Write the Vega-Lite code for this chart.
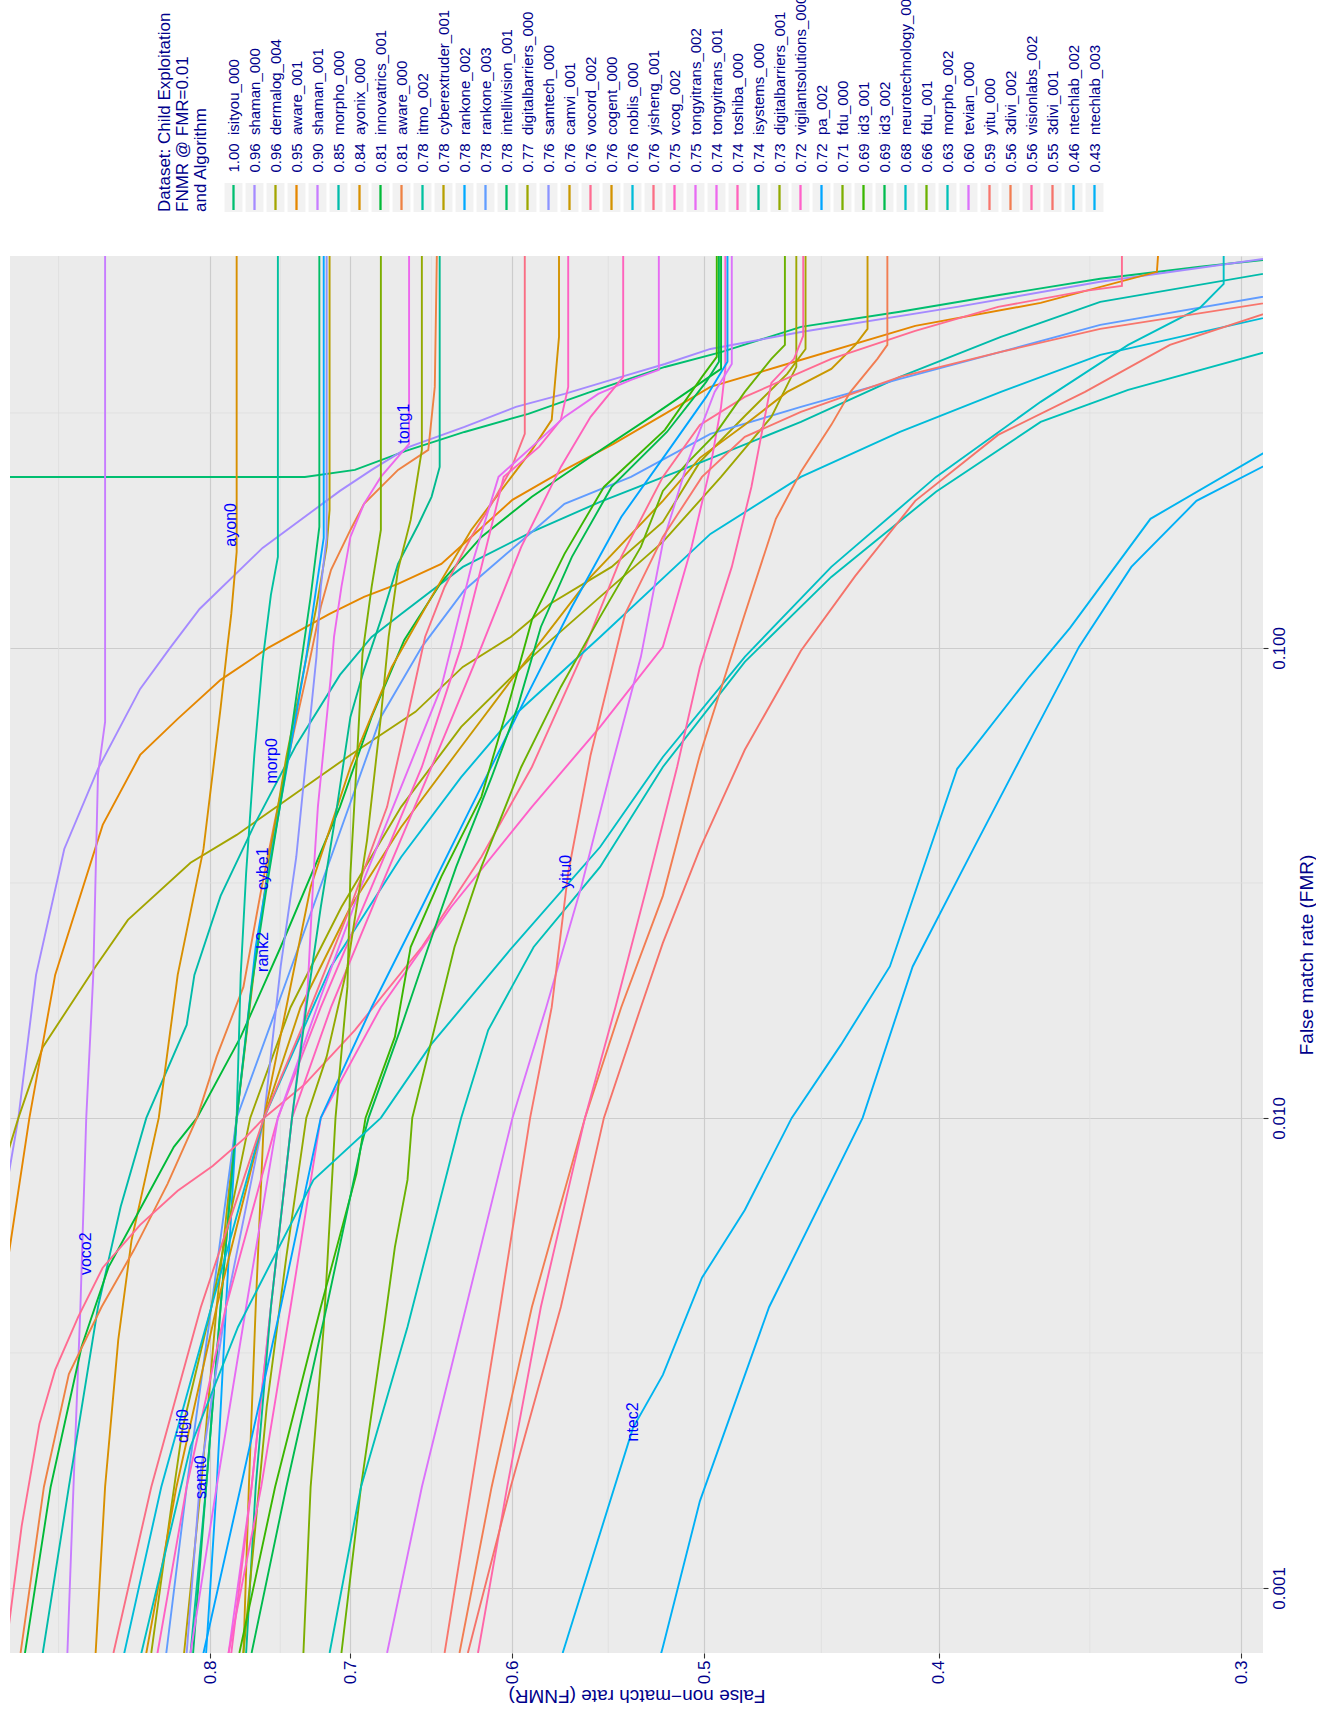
{
"$schema": "https://vega.github.io/schema/vega-lite/v6.json",
"padding": {"left": 9, "top": -10, "right": 0, "bottom": 12},
"background": "white",
"spacing": 42,
"config": {"font": "Liberation Sans", "view": {"stroke": null}},
"datasets": {
"leg": [
{"a":"isityou_000","lab":"1.00\u00a0\u00a0isityou_000"},
{"a":"shaman_000","lab":"0.96\u00a0\u00a0shaman_000"},
{"a":"dermalog_004","lab":"0.96\u00a0\u00a0dermalog_004"},
{"a":"aware_001","lab":"0.95\u00a0\u00a0aware_001"},
{"a":"shaman_001","lab":"0.90\u00a0\u00a0shaman_001"},
{"a":"morpho_000","lab":"0.85\u00a0\u00a0morpho_000"},
{"a":"ayonix_000","lab":"0.84\u00a0\u00a0ayonix_000"},
{"a":"innovatrics_001","lab":"0.81\u00a0\u00a0innovatrics_001"},
{"a":"aware_000","lab":"0.81\u00a0\u00a0aware_000"},
{"a":"itmo_002","lab":"0.78\u00a0\u00a0itmo_002"},
{"a":"cyberextruder_001","lab":"0.78\u00a0\u00a0cyberextruder_001"},
{"a":"rankone_002","lab":"0.78\u00a0\u00a0rankone_002"},
{"a":"rankone_003","lab":"0.78\u00a0\u00a0rankone_003"},
{"a":"intellivision_001","lab":"0.78\u00a0\u00a0intellivision_001"},
{"a":"digitalbarriers_000","lab":"0.77\u00a0\u00a0digitalbarriers_000"},
{"a":"samtech_000","lab":"0.76\u00a0\u00a0samtech_000"},
{"a":"camvi_001","lab":"0.76\u00a0\u00a0camvi_001"},
{"a":"vocord_002","lab":"0.76\u00a0\u00a0vocord_002"},
{"a":"cogent_000","lab":"0.76\u00a0\u00a0cogent_000"},
{"a":"noblis_000","lab":"0.76\u00a0\u00a0noblis_000"},
{"a":"yisheng_001","lab":"0.76\u00a0\u00a0yisheng_001"},
{"a":"vcog_002","lab":"0.75\u00a0\u00a0vcog_002"},
{"a":"tongyitrans_002","lab":"0.75\u00a0\u00a0tongyitrans_002"},
{"a":"tongyitrans_001","lab":"0.74\u00a0\u00a0tongyitrans_001"},
{"a":"toshiba_000","lab":"0.74\u00a0\u00a0toshiba_000"},
{"a":"isystems_000","lab":"0.74\u00a0\u00a0isystems_000"},
{"a":"digitalbarriers_001","lab":"0.73\u00a0\u00a0digitalbarriers_001"},
{"a":"vigilantsolutions_000","lab":"0.72\u00a0\u00a0vigilantsolutions_000"},
{"a":"pa_002","lab":"0.72\u00a0\u00a0pa_002"},
{"a":"fdu_000","lab":"0.71\u00a0\u00a0fdu_000"},
{"a":"id3_001","lab":"0.69\u00a0\u00a0id3_001"},
{"a":"id3_002","lab":"0.69\u00a0\u00a0id3_002"},
{"a":"neurotechnology_000","lab":"0.68\u00a0\u00a0neurotechnology_000"},
{"a":"fdu_001","lab":"0.66\u00a0\u00a0fdu_001"},
{"a":"morpho_002","lab":"0.63\u00a0\u00a0morpho_002"},
{"a":"tevian_000","lab":"0.60\u00a0\u00a0tevian_000"},
{"a":"yitu_000","lab":"0.59\u00a0\u00a0yitu_000"},
{"a":"3divi_002","lab":"0.56\u00a0\u00a03divi_002"},
{"a":"visionlabs_002","lab":"0.56\u00a0\u00a0visionlabs_002"},
{"a":"3divi_001","lab":"0.55\u00a0\u00a03divi_001"},
{"a":"ntechlab_002","lab":"0.46\u00a0\u00a0ntechlab_002"},
{"a":"ntechlab_003","lab":"0.43\u00a0\u00a0ntechlab_003"}
],
"labs": [
{"t":"tong1","n":0.665,"f":0.300},
{"t":"ayon0","n":0.784,"f":0.1827},
{"t":"morp0","n":0.754,"f":0.0575},
{"t":"cybe1","n":0.761,"f":0.0339},
{"t":"rank2","n":0.761,"f":0.02255},
{"t":"yitu0","n":0.570,"f":0.0334},
{"t":"voco2","n":0.900,"f":0.00514},
{"t":"digi0","n":0.821,"f":0.00221},
{"t":"samt0","n":0.807,"f":0.00172},
{"t":"ntec2","n":0.535,"f":0.002255}
],
"minx": [{"n":0.924},{"n":0.7483},{"n":0.6481},{"n":0.5477},{"n":0.4472},{"n":0.3464}],
"miny": [{"f":0.003162},{"f":0.03162},{"f":0.3162}],
"curves": [
{"a":"isityou_000","i":0,"n":1.0,"f":0.000558},{"a":"isityou_000","i":1,"n":1.0,"f":0.231},{"a":"isityou_000","i":2,"n":0.731,"f":0.231},{"a":"isityou_000","i":3,"n":0.697,"f":0.2392},{"a":"isityou_000","i":4,"n":0.664,"f":0.2626},{"a":"isityou_000","i":5,"n":0.628,"f":0.288},{"a":"isityou_000","i":6,"n":0.591,"f":0.3148},{"a":"isityou_000","i":7,"n":0.557,"f":0.3505},{"a":"isityou_000","i":8,"n":0.519,"f":0.396},{"a":"isityou_000","i":9,"n":0.492,"f":0.426},{"a":"isityou_000","i":10,"n":0.456,"f":0.4819},{"a":"isityou_000","i":11,"n":0.415,"f":0.519},{"a":"isityou_000","i":12,"n":0.377,"f":0.564},{"a":"isityou_000","i":13,"n":0.343,"f":0.610},{"a":"isityou_000","i":14,"n":0.312,"f":0.647},{"a":"isityou_000","i":15,"n":0.286,"f":0.679},
{"a":"shaman_000","i":0,"n":1.014,"f":0.0019},{"a":"shaman_000","i":1,"n":0.973,"f":0.00669},{"a":"shaman_000","i":2,"n":0.96,"f":0.01},{"a":"shaman_000","i":3,"n":0.944,"f":0.02015},{"a":"shaman_000","i":4,"n":0.919,"f":0.03735},{"a":"shaman_000","i":5,"n":0.890,"f":0.05528},{"a":"shaman_000","i":6,"n":0.855,"f":0.0818},{"a":"shaman_000","i":7,"n":0.831,"f":0.1},{"a":"shaman_000","i":8,"n":0.808,"f":0.121},{"a":"shaman_000","i":9,"n":0.761,"f":0.1632},{"a":"shaman_000","i":10,"n":0.707,"f":0.2158},{"a":"shaman_000","i":11,"n":0.686,"f":0.2392},{"a":"shaman_000","i":12,"n":0.662,"f":0.2677},{"a":"shaman_000","i":13,"n":0.628,"f":0.2953},{"a":"shaman_000","i":14,"n":0.598,"f":0.3257},{"a":"shaman_000","i":15,"n":0.571,"f":0.347},{"a":"shaman_000","i":16,"n":0.541,"f":0.3772},{"a":"shaman_000","i":17,"n":0.519,"f":0.4018},{"a":"shaman_000","i":18,"n":0.497,"f":0.4325},{"a":"shaman_000","i":19,"n":0.456,"f":0.470},{"a":"shaman_000","i":20,"n":0.393,"f":0.5315},{"a":"shaman_000","i":21,"n":0.343,"f":0.601},{"a":"shaman_000","i":22,"n":0.286,"f":0.685},
{"a":"dermalog_004","i":0,"n":1.014,"f":0.00396},{"a":"dermalog_004","i":1,"n":0.972,"f":0.0081},{"a":"dermalog_004","i":2,"n":0.96,"f":0.01},{"a":"dermalog_004","i":3,"n":0.938,"f":0.01414},{"a":"dermalog_004","i":4,"n":0.892,"f":0.021},{"a":"dermalog_004","i":5,"n":0.865,"f":0.02638},{"a":"dermalog_004","i":6,"n":0.815,"f":0.0349},{"a":"dermalog_004","i":7,"n":0.780,"f":0.04},{"a":"dermalog_004","i":8,"n":0.737,"f":0.04914},{"a":"dermalog_004","i":9,"n":0.700,"f":0.05919},{"a":"dermalog_004","i":10,"n":0.658,"f":0.0731},{"a":"dermalog_004","i":11,"n":0.629,"f":0.0911},{"a":"dermalog_004","i":12,"n":0.601,"f":0.1055},{"a":"dermalog_004","i":13,"n":0.579,"f":0.124},{"a":"dermalog_004","i":14,"n":0.546,"f":0.1487},{"a":"dermalog_004","i":15,"n":0.520,"f":0.1854},{"a":"dermalog_004","i":16,"n":0.502,"f":0.2487},{"a":"dermalog_004","i":17,"n":0.481,"f":0.3114},{"a":"dermalog_004","i":18,"n":0.462,"f":0.3828},{"a":"dermalog_004","i":19,"n":0.454,"f":0.4325},{"a":"dermalog_004","i":20,"n":0.454,"f":1.0},
{"a":"aware_001","i":0,"n":1.014,"f":0.0019},{"a":"aware_001","i":1,"n":0.973,"f":0.00443},{"a":"aware_001","i":2,"n":0.95,"f":0.01},{"a":"aware_001","i":3,"n":0.927,"f":0.02015},{"a":"aware_001","i":4,"n":0.886,"f":0.04201},{"a":"aware_001","i":5,"n":0.855,"f":0.05919},{"a":"aware_001","i":6,"n":0.825,"f":0.07063},{"a":"aware_001","i":7,"n":0.792,"f":0.0855},{"a":"aware_001","i":8,"n":0.757,"f":0.1},{"a":"aware_001","i":9,"n":0.714,"f":0.1181},{"a":"aware_001","i":10,"n":0.691,"f":0.1284},{"a":"aware_001","i":11,"n":0.669,"f":0.1368},{"a":"aware_001","i":12,"n":0.642,"f":0.1509},{"a":"aware_001","i":13,"n":0.624,"f":0.1722},{"a":"aware_001","i":14,"n":0.600,"f":0.2065},{"a":"aware_001","i":15,"n":0.571,"f":0.2392},{"a":"aware_001","i":16,"n":0.545,"f":0.2716},{"a":"aware_001","i":17,"n":0.519,"f":0.3148},{"a":"aware_001","i":18,"n":0.497,"f":0.3592},{"a":"aware_001","i":19,"n":0.462,"f":0.4018},{"a":"aware_001","i":20,"n":0.409,"f":0.4843},{"a":"aware_001","i":21,"n":0.363,"f":0.542},{"a":"aware_001","i":22,"n":0.325,"f":0.631},{"a":"aware_001","i":23,"n":0.323,"f":1.0},
{"a":"shaman_001","i":0,"n":0.918,"f":0.000558},{"a":"shaman_001","i":1,"n":0.911,"f":0.00164},{"a":"shaman_001","i":2,"n":0.905,"f":0.00396},{"a":"shaman_001","i":3,"n":0.90,"f":0.01},{"a":"shaman_001","i":4,"n":0.894,"f":0.02015},{"a":"shaman_001","i":5,"n":0.890,"f":0.0539},{"a":"shaman_001","i":6,"n":0.884,"f":0.0696},{"a":"shaman_001","i":7,"n":0.884,"f":1.0},
{"a":"morpho_000","i":0,"n":0.945,"f":0.000558},{"a":"morpho_000","i":1,"n":0.938,"f":0.000727},{"a":"morpho_000","i":2,"n":0.915,"f":0.00164},{"a":"morpho_000","i":3,"n":0.890,"f":0.00396},{"a":"morpho_000","i":4,"n":0.871,"f":0.00647},{"a":"morpho_000","i":5,"n":0.85,"f":0.01},{"a":"morpho_000","i":6,"n":0.818,"f":0.01577},{"a":"morpho_000","i":7,"n":0.812,"f":0.02015},{"a":"morpho_000","i":8,"n":0.792,"f":0.02968},{"a":"morpho_000","i":9,"n":0.767,"f":0.04201},{"a":"morpho_000","i":10,"n":0.737,"f":0.06217},{"a":"morpho_000","i":11,"n":0.707,"f":0.0876},{"a":"morpho_000","i":12,"n":0.686,"f":0.1055},{"a":"morpho_000","i":13,"n":0.667,"f":0.1181},{"a":"morpho_000","i":14,"n":0.629,"f":0.1487},{"a":"morpho_000","i":15,"n":0.589,"f":0.1765},{"a":"morpho_000","i":16,"n":0.552,"f":0.2045},{"a":"morpho_000","i":17,"n":0.501,"f":0.2487},{"a":"morpho_000","i":18,"n":0.456,"f":0.3026},{"a":"morpho_000","i":19,"n":0.415,"f":0.3772},{"a":"morpho_000","i":20,"n":0.377,"f":0.4588},{"a":"morpho_000","i":21,"n":0.343,"f":0.5447},{"a":"morpho_000","i":22,"n":0.286,"f":0.640},
{"a":"ayonix_000","i":0,"n":0.896,"f":0.000558},{"a":"ayonix_000","i":1,"n":0.892,"f":0.000727},{"a":"ayonix_000","i":2,"n":0.884,"f":0.00164},{"a":"ayonix_000","i":3,"n":0.873,"f":0.00337},{"a":"ayonix_000","i":4,"n":0.862,"f":0.0055},{"a":"ayonix_000","i":5,"n":0.84,"f":0.01},{"a":"ayonix_000","i":6,"n":0.825,"f":0.02015},{"a":"ayonix_000","i":7,"n":0.805,"f":0.03735},{"a":"ayonix_000","i":8,"n":0.792,"f":0.0745},{"a":"ayonix_000","i":9,"n":0.787,"f":0.1},{"a":"ayonix_000","i":10,"n":0.784,"f":0.1181},{"a":"ayonix_000","i":11,"n":0.780,"f":0.16},{"a":"ayonix_000","i":12,"n":0.780,"f":1.0},
{"a":"innovatrics_001","i":0,"n":0.962,"f":0.000558},{"a":"innovatrics_001","i":1,"n":0.954,"f":0.000727},{"a":"innovatrics_001","i":2,"n":0.931,"f":0.00164},{"a":"innovatrics_001","i":3,"n":0.904,"f":0.00326},{"a":"innovatrics_001","i":4,"n":0.881,"f":0.00482},{"a":"innovatrics_001","i":5,"n":0.854,"f":0.00647},{"a":"innovatrics_001","i":6,"n":0.828,"f":0.00868},{"a":"innovatrics_001","i":7,"n":0.81,"f":0.01},{"a":"innovatrics_001","i":8,"n":0.777,"f":0.01487},{"a":"innovatrics_001","i":9,"n":0.748,"f":0.0231},{"a":"innovatrics_001","i":10,"n":0.707,"f":0.0459},{"a":"innovatrics_001","i":11,"n":0.686,"f":0.0713},{"a":"innovatrics_001","i":12,"n":0.665,"f":0.104},{"a":"innovatrics_001","i":13,"n":0.642,"f":0.1381},{"a":"innovatrics_001","i":14,"n":0.618,"f":0.1722},{"a":"innovatrics_001","i":15,"n":0.589,"f":0.2096},{"a":"innovatrics_001","i":16,"n":0.557,"f":0.255},{"a":"innovatrics_001","i":17,"n":0.526,"f":0.3101},{"a":"innovatrics_001","i":18,"n":0.501,"f":0.3681},{"a":"innovatrics_001","i":19,"n":0.492,"f":0.3923},{"a":"innovatrics_001","i":20,"n":0.492,"f":1.0},
{"a":"aware_000","i":0,"n":0.967,"f":0.000558},{"a":"aware_000","i":1,"n":0.958,"f":0.000727},{"a":"aware_000","i":2,"n":0.937,"f":0.00164},{"a":"aware_000","i":3,"n":0.915,"f":0.00285},{"a":"aware_000","i":4,"n":0.887,"f":0.00396},{"a":"aware_000","i":5,"n":0.860,"f":0.00524},{"a":"aware_000","i":6,"n":0.833,"f":0.00724},{"a":"aware_000","i":7,"n":0.81,"f":0.01},{"a":"aware_000","i":8,"n":0.795,"f":0.0135},{"a":"aware_000","i":9,"n":0.775,"f":0.019},{"a":"aware_000","i":10,"n":0.762,"f":0.03057},{"a":"aware_000","i":11,"n":0.752,"f":0.04305},{"a":"aware_000","i":12,"n":0.739,"f":0.06561},{"a":"aware_000","i":13,"n":0.729,"f":0.0898},{"a":"aware_000","i":14,"n":0.720,"f":0.1223},{"a":"aware_000","i":15,"n":0.713,"f":0.1466},{"a":"aware_000","i":16,"n":0.700,"f":0.1782},{"a":"aware_000","i":17,"n":0.691,"f":0.2025},{"a":"aware_000","i":18,"n":0.669,"f":0.2392},{"a":"aware_000","i":19,"n":0.650,"f":0.2638},{"a":"aware_000","i":20,"n":0.646,"f":0.3592},{"a":"aware_000","i":21,"n":0.644,"f":1.0},
{"a":"itmo_002","i":0,"n":0.818,"f":0.000558},{"a":"itmo_002","i":1,"n":0.815,"f":0.000727},{"a":"itmo_002","i":2,"n":0.803,"f":0.00164},{"a":"itmo_002","i":3,"n":0.792,"f":0.00396},{"a":"itmo_002","i":4,"n":0.78,"f":0.01},{"a":"itmo_002","i":5,"n":0.777,"f":0.02015},{"a":"itmo_002","i":6,"n":0.773,"f":0.0332},{"a":"itmo_002","i":7,"n":0.767,"f":0.05919},{"a":"itmo_002","i":8,"n":0.761,"f":0.0938},{"a":"itmo_002","i":9,"n":0.755,"f":0.1297},{"a":"itmo_002","i":10,"n":0.750,"f":0.1562},{"a":"itmo_002","i":11,"n":0.750,"f":1.0},
{"a":"cyberextruder_001","i":0,"n":0.824,"f":0.000558},{"a":"cyberextruder_001","i":1,"n":0.820,"f":0.000727},{"a":"cyberextruder_001","i":2,"n":0.807,"f":0.00164},{"a":"cyberextruder_001","i":3,"n":0.795,"f":0.00396},{"a":"cyberextruder_001","i":4,"n":0.78,"f":0.01},{"a":"cyberextruder_001","i":5,"n":0.766,"f":0.022},{"a":"cyberextruder_001","i":6,"n":0.756,"f":0.0359},{"a":"cyberextruder_001","i":7,"n":0.744,"f":0.0586},{"a":"cyberextruder_001","i":8,"n":0.734,"f":0.0826},{"a":"cyberextruder_001","i":9,"n":0.723,"f":0.1223},{"a":"cyberextruder_001","i":10,"n":0.716,"f":0.164},{"a":"cyberextruder_001","i":11,"n":0.714,"f":0.1966},{"a":"cyberextruder_001","i":12,"n":0.714,"f":1.0},
{"a":"rankone_002","i":0,"n":0.807,"f":0.000558},{"a":"rankone_002","i":1,"n":0.803,"f":0.000727},{"a":"rankone_002","i":2,"n":0.795,"f":0.00164},{"a":"rankone_002","i":3,"n":0.788,"f":0.00396},{"a":"rankone_002","i":4,"n":0.78,"f":0.01},{"a":"rankone_002","i":5,"n":0.766,"f":0.0231},{"a":"rankone_002","i":6,"n":0.755,"f":0.0359},{"a":"rankone_002","i":7,"n":0.741,"f":0.0616},{"a":"rankone_002","i":8,"n":0.730,"f":0.0957},{"a":"rankone_002","i":9,"n":0.723,"f":0.1348},{"a":"rankone_002","i":10,"n":0.718,"f":0.1714},{"a":"rankone_002","i":11,"n":0.718,"f":1.0},
{"a":"rankone_003","i":0,"n":0.839,"f":0.000558},{"a":"rankone_003","i":1,"n":0.834,"f":0.000727},{"a":"rankone_003","i":2,"n":0.818,"f":0.00164},{"a":"rankone_003","i":3,"n":0.799,"f":0.00396},{"a":"rankone_003","i":4,"n":0.78,"f":0.01},{"a":"rankone_003","i":5,"n":0.748,"f":0.0181},{"a":"rankone_003","i":6,"n":0.713,"f":0.0359},{"a":"rankone_003","i":7,"n":0.680,"f":0.0713},{"a":"rankone_003","i":8,"n":0.654,"f":0.1005},{"a":"rankone_003","i":9,"n":0.628,"f":0.1328},{"a":"rankone_003","i":10,"n":0.571,"f":0.2025},{"a":"rankone_003","i":11,"n":0.536,"f":0.2311},{"a":"rankone_003","i":12,"n":0.497,"f":0.2853},{"a":"rankone_003","i":13,"n":0.456,"f":0.3257},{"a":"rankone_003","i":14,"n":0.415,"f":0.3735},{"a":"rankone_003","i":15,"n":0.377,"f":0.4264},{"a":"rankone_003","i":16,"n":0.343,"f":0.4867},{"a":"rankone_003","i":17,"n":0.286,"f":0.572},
{"a":"intellivision_001","i":0,"n":0.817,"f":0.000558},{"a":"intellivision_001","i":1,"n":0.813,"f":0.000727},{"a":"intellivision_001","i":2,"n":0.803,"f":0.00164},{"a":"intellivision_001","i":3,"n":0.792,"f":0.00396},{"a":"intellivision_001","i":4,"n":0.78,"f":0.01},{"a":"intellivision_001","i":5,"n":0.769,"f":0.019},{"a":"intellivision_001","i":6,"n":0.758,"f":0.031},{"a":"intellivision_001","i":7,"n":0.744,"f":0.0558},{"a":"intellivision_001","i":8,"n":0.734,"f":0.0911},{"a":"intellivision_001","i":9,"n":0.727,"f":0.1284},{"a":"intellivision_001","i":10,"n":0.721,"f":0.1809},{"a":"intellivision_001","i":11,"n":0.721,"f":1.0},
{"a":"digitalbarriers_000","i":0,"n":0.854,"f":0.000558},{"a":"digitalbarriers_000","i":1,"n":0.846,"f":0.000727},{"a":"digitalbarriers_000","i":2,"n":0.830,"f":0.00149},{"a":"digitalbarriers_000","i":3,"n":0.821,"f":0.0022},{"a":"digitalbarriers_000","i":4,"n":0.799,"f":0.00396},{"a":"digitalbarriers_000","i":5,"n":0.77,"f":0.01},{"a":"digitalbarriers_000","i":6,"n":0.741,"f":0.0172},{"a":"digitalbarriers_000","i":7,"n":0.706,"f":0.0281},{"a":"digitalbarriers_000","i":8,"n":0.667,"f":0.0459},{"a":"digitalbarriers_000","i":9,"n":0.630,"f":0.0679},{"a":"digitalbarriers_000","i":10,"n":0.589,"f":0.0957},{"a":"digitalbarriers_000","i":11,"n":0.552,"f":0.1284},{"a":"digitalbarriers_000","i":12,"n":0.520,"f":0.1681},{"a":"digitalbarriers_000","i":13,"n":0.492,"f":0.2311},{"a":"digitalbarriers_000","i":14,"n":0.469,"f":0.3101},{"a":"digitalbarriers_000","i":15,"n":0.458,"f":0.3962},{"a":"digitalbarriers_000","i":16,"n":0.458,"f":1.0},
{"a":"samtech_000","i":0,"n":0.824,"f":0.000558},{"a":"samtech_000","i":1,"n":0.818,"f":0.000727},{"a":"samtech_000","i":2,"n":0.807,"f":0.00178},{"a":"samtech_000","i":3,"n":0.788,"f":0.00396},{"a":"samtech_000","i":4,"n":0.76,"f":0.01},{"a":"samtech_000","i":5,"n":0.748,"f":0.021},{"a":"samtech_000","i":6,"n":0.737,"f":0.0359},{"a":"samtech_000","i":7,"n":0.730,"f":0.0586},{"a":"samtech_000","i":8,"n":0.723,"f":0.0957},{"a":"samtech_000","i":9,"n":0.720,"f":0.1348},{"a":"samtech_000","i":10,"n":0.716,"f":0.1714},{"a":"samtech_000","i":11,"n":0.716,"f":1.0},
{"a":"camvi_001","i":0,"n":0.777,"f":0.000558},{"a":"camvi_001","i":1,"n":0.775,"f":0.000727},{"a":"camvi_001","i":2,"n":0.771,"f":0.00164},{"a":"camvi_001","i":3,"n":0.766,"f":0.00396},{"a":"camvi_001","i":4,"n":0.76,"f":0.01},{"a":"camvi_001","i":5,"n":0.734,"f":0.0172},{"a":"camvi_001","i":6,"n":0.700,"f":0.0281},{"a":"camvi_001","i":7,"n":0.667,"f":0.0416},{"a":"camvi_001","i":8,"n":0.630,"f":0.0616},{"a":"camvi_001","i":9,"n":0.595,"f":0.0911},{"a":"camvi_001","i":10,"n":0.557,"f":0.1416},{"a":"camvi_001","i":11,"n":0.520,"f":0.2055},{"a":"camvi_001","i":12,"n":0.502,"f":0.2537},{"a":"camvi_001","i":13,"n":0.481,"f":0.2982},{"a":"camvi_001","i":14,"n":0.462,"f":0.3505},{"a":"camvi_001","i":15,"n":0.443,"f":0.3923},{"a":"camvi_001","i":16,"n":0.433,"f":0.4412},{"a":"camvi_001","i":17,"n":0.428,"f":0.4771},{"a":"camvi_001","i":18,"n":0.428,"f":1.0},
{"a":"vocord_002","i":0,"n":0.979,"f":0.000558},{"a":"vocord_002","i":1,"n":0.972,"f":0.000727},{"a":"vocord_002","i":2,"n":0.957,"f":0.001355},{"a":"vocord_002","i":3,"n":0.941,"f":0.002234},{"a":"vocord_002","i":4,"n":0.927,"f":0.00291},{"a":"vocord_002","i":5,"n":0.907,"f":0.00377},{"a":"vocord_002","i":6,"n":0.886,"f":0.0048},{"a":"vocord_002","i":7,"n":0.855,"f":0.00592},{"a":"vocord_002","i":8,"n":0.825,"f":0.007},{"a":"vocord_002","i":9,"n":0.798,"f":0.0079},{"a":"vocord_002","i":10,"n":0.773,"f":0.00911},{"a":"vocord_002","i":11,"n":0.76,"f":0.01},{"a":"vocord_002","i":12,"n":0.731,"f":0.0118},{"a":"vocord_002","i":13,"n":0.697,"f":0.01538},{"a":"vocord_002","i":14,"n":0.654,"f":0.0231},{"a":"vocord_002","i":15,"n":0.618,"f":0.0359},{"a":"vocord_002","i":16,"n":0.589,"f":0.0558},{"a":"vocord_002","i":17,"n":0.562,"f":0.0957},{"a":"vocord_002","i":18,"n":0.541,"f":0.1562},{"a":"vocord_002","i":19,"n":0.520,"f":0.2311},{"a":"vocord_002","i":20,"n":0.502,"f":0.2982},{"a":"vocord_002","i":21,"n":0.481,"f":0.342},{"a":"vocord_002","i":22,"n":0.443,"f":0.4121},{"a":"vocord_002","i":23,"n":0.409,"f":0.4726},{"a":"vocord_002","i":24,"n":0.378,"f":0.5315},{"a":"vocord_002","i":25,"n":0.348,"f":0.5749},{"a":"vocord_002","i":26,"n":0.336,"f":0.5892},{"a":"vocord_002","i":27,"n":0.336,"f":1.0},
{"a":"cogent_000","i":0,"n":0.858,"f":0.000558},{"a":"cogent_000","i":1,"n":0.850,"f":0.000727},{"a":"cogent_000","i":2,"n":0.826,"f":0.00164},{"a":"cogent_000","i":3,"n":0.795,"f":0.00396},{"a":"cogent_000","i":4,"n":0.76,"f":0.01},{"a":"cogent_000","i":5,"n":0.744,"f":0.0172},{"a":"cogent_000","i":6,"n":0.727,"f":0.031},{"a":"cogent_000","i":7,"n":0.700,"f":0.0558},{"a":"cogent_000","i":8,"n":0.673,"f":0.0911},{"a":"cogent_000","i":9,"n":0.648,"f":0.1284},{"a":"cogent_000","i":10,"n":0.624,"f":0.1782},{"a":"cogent_000","i":11,"n":0.608,"f":0.2126},{"a":"cogent_000","i":12,"n":0.589,"f":0.2638},{"a":"cogent_000","i":13,"n":0.578,"f":0.3056},{"a":"cogent_000","i":14,"n":0.574,"f":0.4588},{"a":"cogent_000","i":15,"n":0.574,"f":1.0},
{"a":"noblis_000","i":0,"n":0.879,"f":0.000558},{"a":"noblis_000","i":1,"n":0.868,"f":0.000727},{"a":"noblis_000","i":2,"n":0.838,"f":0.00164},{"a":"noblis_000","i":3,"n":0.799,"f":0.00396},{"a":"noblis_000","i":4,"n":0.76,"f":0.01},{"a":"noblis_000","i":5,"n":0.713,"f":0.021},{"a":"noblis_000","i":6,"n":0.667,"f":0.0359},{"a":"noblis_000","i":7,"n":0.630,"f":0.0531},{"a":"noblis_000","i":8,"n":0.600,"f":0.0713},{"a":"noblis_000","i":9,"n":0.552,"f":0.1055},{"a":"noblis_000","i":10,"n":0.497,"f":0.1748},{"a":"noblis_000","i":11,"n":0.456,"f":0.2311},{"a":"noblis_000","i":12,"n":0.415,"f":0.2881},{"a":"noblis_000","i":13,"n":0.377,"f":0.3505},{"a":"noblis_000","i":14,"n":0.343,"f":0.4202},{"a":"noblis_000","i":15,"n":0.286,"f":0.519},
{"a":"yisheng_001","i":0,"n":0.892,"f":0.000558},{"a":"yisheng_001","i":1,"n":0.877,"f":0.000727},{"a":"yisheng_001","i":2,"n":0.846,"f":0.00164},{"a":"yisheng_001","i":3,"n":0.807,"f":0.00396},{"a":"yisheng_001","i":4,"n":0.76,"f":0.01},{"a":"yisheng_001","i":5,"n":0.727,"f":0.0172},{"a":"yisheng_001","i":6,"n":0.700,"f":0.0281},{"a":"yisheng_001","i":7,"n":0.676,"f":0.0459},{"a":"yisheng_001","i":8,"n":0.663,"f":0.0713},{"a":"yisheng_001","i":9,"n":0.652,"f":0.1055},{"a":"yisheng_001","i":10,"n":0.640,"f":0.1348},{"a":"yisheng_001","i":11,"n":0.624,"f":0.1722},{"a":"yisheng_001","i":12,"n":0.612,"f":0.2025},{"a":"yisheng_001","i":13,"n":0.601,"f":0.2392},{"a":"yisheng_001","i":14,"n":0.593,"f":0.2853},{"a":"yisheng_001","i":15,"n":0.593,"f":1.0},
{"a":"vcog_002","i":0,"n":0.846,"f":0.000558},{"a":"vcog_002","i":1,"n":0.841,"f":0.000727},{"a":"vcog_002","i":2,"n":0.818,"f":0.00164},{"a":"vcog_002","i":3,"n":0.788,"f":0.00396},{"a":"vcog_002","i":4,"n":0.75,"f":0.01},{"a":"vcog_002","i":5,"n":0.720,"f":0.0172},{"a":"vcog_002","i":6,"n":0.686,"f":0.031},{"a":"vcog_002","i":7,"n":0.654,"f":0.0558},{"a":"vcog_002","i":8,"n":0.630,"f":0.1005},{"a":"vcog_002","i":9,"n":0.618,"f":0.1487},{"a":"vcog_002","i":10,"n":0.605,"f":0.2311},{"a":"vcog_002","i":11,"n":0.585,"f":0.2677},{"a":"vcog_002","i":12,"n":0.573,"f":0.3056},{"a":"vcog_002","i":13,"n":0.569,"f":0.3592},{"a":"vcog_002","i":14,"n":0.569,"f":1.0},
{"a":"tongyitrans_002","i":0,"n":0.822,"f":0.000558},{"a":"tongyitrans_002","i":1,"n":0.815,"f":0.000727},{"a":"tongyitrans_002","i":2,"n":0.795,"f":0.00164},{"a":"tongyitrans_002","i":3,"n":0.773,"f":0.00396},{"a":"tongyitrans_002","i":4,"n":0.75,"f":0.01},{"a":"tongyitrans_002","i":5,"n":0.720,"f":0.0181},{"a":"tongyitrans_002","i":6,"n":0.693,"f":0.031},{"a":"tongyitrans_002","i":7,"n":0.667,"f":0.0506},{"a":"tongyitrans_002","i":8,"n":0.642,"f":0.0826},{"a":"tongyitrans_002","i":9,"n":0.624,"f":0.1487},{"a":"tongyitrans_002","i":10,"n":0.608,"f":0.2311},{"a":"tongyitrans_002","i":11,"n":0.589,"f":0.2677},{"a":"tongyitrans_002","i":12,"n":0.571,"f":0.3101},{"a":"tongyitrans_002","i":13,"n":0.553,"f":0.347},{"a":"tongyitrans_002","i":14,"n":0.536,"f":0.3717},{"a":"tongyitrans_002","i":15,"n":0.522,"f":0.3904},{"a":"tongyitrans_002","i":16,"n":0.522,"f":1.0},
{"a":"tongyitrans_001","i":0,"n":0.792,"f":0.000558},{"a":"tongyitrans_001","i":1,"n":0.786,"f":0.000727},{"a":"tongyitrans_001","i":2,"n":0.769,"f":0.00164},{"a":"tongyitrans_001","i":3,"n":0.755,"f":0.00396},{"a":"tongyitrans_001","i":4,"n":0.74,"f":0.01},{"a":"tongyitrans_001","i":5,"n":0.729,"f":0.019},{"a":"tongyitrans_001","i":6,"n":0.725,"f":0.033},{"a":"tongyitrans_001","i":7,"n":0.722,"f":0.0459},{"a":"tongyitrans_001","i":8,"n":0.713,"f":0.088},{"a":"tongyitrans_001","i":9,"n":0.711,"f":0.1055},{"a":"tongyitrans_001","i":10,"n":0.706,"f":0.1348},{"a":"tongyitrans_001","i":11,"n":0.700,"f":0.1722},{"a":"tongyitrans_001","i":12,"n":0.691,"f":0.2025},{"a":"tongyitrans_001","i":13,"n":0.680,"f":0.2311},{"a":"tongyitrans_001","i":14,"n":0.662,"f":0.2716},{"a":"tongyitrans_001","i":15,"n":0.662,"f":1.0},
{"a":"toshiba_000","i":0,"n":0.790,"f":0.000558},{"a":"toshiba_000","i":1,"n":0.784,"f":0.000727},{"a":"toshiba_000","i":2,"n":0.769,"f":0.00164},{"a":"toshiba_000","i":3,"n":0.755,"f":0.00396},{"a":"toshiba_000","i":4,"n":0.74,"f":0.01},{"a":"toshiba_000","i":5,"n":0.713,"f":0.0172},{"a":"toshiba_000","i":6,"n":0.680,"f":0.031},{"a":"toshiba_000","i":7,"n":0.648,"f":0.0558},{"a":"toshiba_000","i":8,"n":0.618,"f":0.1005},{"a":"toshiba_000","i":9,"n":0.595,"f":0.164},{"a":"toshiba_000","i":10,"n":0.573,"f":0.2427},{"a":"toshiba_000","i":11,"n":0.557,"f":0.3101},{"a":"toshiba_000","i":12,"n":0.540,"f":0.3772},{"a":"toshiba_000","i":13,"n":0.540,"f":1.0},
{"a":"isystems_000","i":0,"n":0.777,"f":0.000558},{"a":"isystems_000","i":1,"n":0.773,"f":0.000727},{"a":"isystems_000","i":2,"n":0.766,"f":0.00164},{"a":"isystems_000","i":3,"n":0.755,"f":0.00396},{"a":"isystems_000","i":4,"n":0.74,"f":0.01},{"a":"isystems_000","i":5,"n":0.730,"f":0.0172},{"a":"isystems_000","i":6,"n":0.720,"f":0.0281},{"a":"isystems_000","i":7,"n":0.709,"f":0.0459},{"a":"isystems_000","i":8,"n":0.700,"f":0.0713},{"a":"isystems_000","i":9,"n":0.691,"f":0.0898},{"a":"isystems_000","i":10,"n":0.680,"f":0.1147},{"a":"isystems_000","i":11,"n":0.669,"f":0.1509},{"a":"isystems_000","i":12,"n":0.656,"f":0.1835},{"a":"isystems_000","i":13,"n":0.648,"f":0.2096},{"a":"isystems_000","i":14,"n":0.643,"f":0.2427},{"a":"isystems_000","i":15,"n":0.643,"f":1.0},
{"a":"digitalbarriers_001","i":0,"n":0.779,"f":0.000558},{"a":"digitalbarriers_001","i":1,"n":0.775,"f":0.000727},{"a":"digitalbarriers_001","i":2,"n":0.758,"f":0.00243},{"a":"digitalbarriers_001","i":3,"n":0.744,"f":0.00506},{"a":"digitalbarriers_001","i":4,"n":0.73,"f":0.01},{"a":"digitalbarriers_001","i":5,"n":0.716,"f":0.0135},{"a":"digitalbarriers_001","i":6,"n":0.702,"f":0.021},{"a":"digitalbarriers_001","i":7,"n":0.689,"f":0.039},{"a":"digitalbarriers_001","i":8,"n":0.680,"f":0.0713},{"a":"digitalbarriers_001","i":9,"n":0.675,"f":0.1055},{"a":"digitalbarriers_001","i":10,"n":0.669,"f":0.1466},{"a":"digitalbarriers_001","i":11,"n":0.661,"f":0.1872},{"a":"digitalbarriers_001","i":12,"n":0.654,"f":0.2638},{"a":"digitalbarriers_001","i":13,"n":0.654,"f":1.0},
{"a":"vigilantsolutions_000","i":0,"n":0.793,"f":0.000558},{"a":"vigilantsolutions_000","i":1,"n":0.786,"f":0.000727},{"a":"vigilantsolutions_000","i":2,"n":0.762,"f":0.00164},{"a":"vigilantsolutions_000","i":3,"n":0.741,"f":0.00396},{"a":"vigilantsolutions_000","i":4,"n":0.72,"f":0.01},{"a":"vigilantsolutions_000","i":5,"n":0.680,"f":0.0172},{"a":"vigilantsolutions_000","i":6,"n":0.636,"f":0.0281},{"a":"vigilantsolutions_000","i":7,"n":0.589,"f":0.0459},{"a":"vigilantsolutions_000","i":8,"n":0.552,"f":0.0679},{"a":"vigilantsolutions_000","i":9,"n":0.520,"f":0.1005},{"a":"vigilantsolutions_000","i":10,"n":0.506,"f":0.164},{"a":"vigilantsolutions_000","i":11,"n":0.497,"f":0.2427},{"a":"vigilantsolutions_000","i":12,"n":0.492,"f":0.3257},{"a":"vigilantsolutions_000","i":13,"n":0.490,"f":0.3923},{"a":"vigilantsolutions_000","i":14,"n":0.490,"f":1.0},
{"a":"pa_002","i":0,"n":0.812,"f":0.000558},{"a":"pa_002","i":1,"n":0.805,"f":0.000727},{"a":"pa_002","i":2,"n":0.777,"f":0.00164},{"a":"pa_002","i":3,"n":0.748,"f":0.00396},{"a":"pa_002","i":4,"n":0.72,"f":0.01},{"a":"pa_002","i":5,"n":0.686,"f":0.0172},{"a":"pa_002","i":6,"n":0.654,"f":0.0281},{"a":"pa_002","i":7,"n":0.624,"f":0.0459},{"a":"pa_002","i":8,"n":0.595,"f":0.0749},{"a":"pa_002","i":9,"n":0.567,"f":0.1223},{"a":"pa_002","i":10,"n":0.541,"f":0.1899},{"a":"pa_002","i":11,"n":0.516,"f":0.2677},{"a":"pa_002","i":12,"n":0.499,"f":0.342},{"a":"pa_002","i":13,"n":0.489,"f":0.4061},{"a":"pa_002","i":14,"n":0.489,"f":1.0},
{"a":"fdu_000","i":0,"n":0.734,"f":0.000558},{"a":"fdu_000","i":1,"n":0.732,"f":0.000727},{"a":"fdu_000","i":2,"n":0.727,"f":0.00164},{"a":"fdu_000","i":3,"n":0.718,"f":0.00359},{"a":"fdu_000","i":4,"n":0.71,"f":0.01},{"a":"fdu_000","i":5,"n":0.702,"f":0.019},{"a":"fdu_000","i":6,"n":0.700,"f":0.033},{"a":"fdu_000","i":7,"n":0.695,"f":0.0637},{"a":"fdu_000","i":8,"n":0.692,"f":0.0971},{"a":"fdu_000","i":9,"n":0.686,"f":0.1348},{"a":"fdu_000","i":10,"n":0.680,"f":0.1782},{"a":"fdu_000","i":11,"n":0.680,"f":1.0},
{"a":"id3_001","i":0,"n":0.788,"f":0.000558},{"a":"id3_001","i":1,"n":0.778,"f":0.000727},{"a":"id3_001","i":2,"n":0.752,"f":0.00164},{"a":"id3_001","i":3,"n":0.720,"f":0.00396},{"a":"id3_001","i":4,"n":0.696,"f":0.0076},{"a":"id3_001","i":5,"n":0.69,"f":0.01},{"a":"id3_001","i":6,"n":0.671,"f":0.01487},{"a":"id3_001","i":7,"n":0.661,"f":0.0231},{"a":"id3_001","i":8,"n":0.642,"f":0.0326},{"a":"id3_001","i":9,"n":0.618,"f":0.0482},{"a":"id3_001","i":10,"n":0.601,"f":0.0787},{"a":"id3_001","i":11,"n":0.589,"f":0.1147},{"a":"id3_001","i":12,"n":0.571,"f":0.1585},{"a":"id3_001","i":13,"n":0.550,"f":0.22},{"a":"id3_001","i":14,"n":0.519,"f":0.291},{"a":"id3_001","i":15,"n":0.501,"f":0.3772},{"a":"id3_001","i":16,"n":0.494,"f":0.416},{"a":"id3_001","i":17,"n":0.494,"f":1.0},
{"a":"id3_002","i":0,"n":0.780,"f":0.000558},{"a":"id3_002","i":1,"n":0.769,"f":0.000727},{"a":"id3_002","i":2,"n":0.744,"f":0.00164},{"a":"id3_002","i":3,"n":0.716,"f":0.00396},{"a":"id3_002","i":4,"n":0.693,"f":0.00868},{"a":"id3_002","i":5,"n":0.688,"f":0.01},{"a":"id3_002","i":6,"n":0.667,"f":0.0156},{"a":"id3_002","i":7,"n":0.650,"f":0.0231},{"a":"id3_002","i":8,"n":0.633,"f":0.0342},{"a":"id3_002","i":9,"n":0.612,"f":0.0531},{"a":"id3_002","i":10,"n":0.597,"f":0.0749},{"a":"id3_002","i":11,"n":0.584,"f":0.1108},{"a":"id3_002","i":12,"n":0.567,"f":0.1562},{"a":"id3_002","i":13,"n":0.546,"f":0.22},{"a":"id3_002","i":14,"n":0.518,"f":0.288},{"a":"id3_002","i":15,"n":0.499,"f":0.3681},{"a":"id3_002","i":16,"n":0.493,"f":0.4061},{"a":"id3_002","i":17,"n":0.493,"f":1.0},
{"a":"neurotechnology_000","i":0,"n":0.862,"f":0.000558},{"a":"neurotechnology_000","i":1,"n":0.854,"f":0.000727},{"a":"neurotechnology_000","i":2,"n":0.815,"f":0.002},{"a":"neurotechnology_000","i":3,"n":0.779,"f":0.00359},{"a":"neurotechnology_000","i":4,"n":0.725,"f":0.00738},{"a":"neurotechnology_000","i":5,"n":0.68,"f":0.01},{"a":"neurotechnology_000","i":6,"n":0.648,"f":0.01437},{"a":"neurotechnology_000","i":7,"n":0.600,"f":0.0231},{"a":"neurotechnology_000","i":8,"n":0.552,"f":0.0377},{"a":"neurotechnology_000","i":9,"n":0.520,"f":0.0586},{"a":"neurotechnology_000","i":10,"n":0.481,"f":0.0957},{"a":"neurotechnology_000","i":11,"n":0.443,"f":0.1487},{"a":"neurotechnology_000","i":12,"n":0.401,"f":0.2311},{"a":"neurotechnology_000","i":13,"n":0.363,"f":0.3338},{"a":"neurotechnology_000","i":14,"n":0.334,"f":0.4412},{"a":"neurotechnology_000","i":15,"n":0.312,"f":0.5289},{"a":"neurotechnology_000","i":16,"n":0.305,"f":0.5951},{"a":"neurotechnology_000","i":17,"n":0.305,"f":1.0},
{"a":"fdu_001","i":0,"n":0.709,"f":0.000558},{"a":"fdu_001","i":1,"n":0.706,"f":0.000727},{"a":"fdu_001","i":2,"n":0.693,"f":0.00164},{"a":"fdu_001","i":3,"n":0.678,"f":0.00359},{"a":"fdu_001","i":4,"n":0.671,"f":0.00531},{"a":"fdu_001","i":5,"n":0.663,"f":0.00738},{"a":"fdu_001","i":6,"n":0.66,"f":0.01},{"a":"fdu_001","i":7,"n":0.647,"f":0.0151},{"a":"fdu_001","i":8,"n":0.634,"f":0.0231},{"a":"fdu_001","i":9,"n":0.618,"f":0.0342},{"a":"fdu_001","i":10,"n":0.595,"f":0.0558},{"a":"fdu_001","i":11,"n":0.573,"f":0.0826},{"a":"fdu_001","i":12,"n":0.552,"f":0.1164},{"a":"fdu_001","i":13,"n":0.531,"f":0.164},{"a":"fdu_001","i":14,"n":0.520,"f":0.2158},{"a":"fdu_001","i":15,"n":0.508,"f":0.2475},{"a":"fdu_001","i":16,"n":0.495,"f":0.2839},{"a":"fdu_001","i":17,"n":0.481,"f":0.3505},{"a":"fdu_001","i":18,"n":0.469,"f":0.4121},{"a":"fdu_001","i":19,"n":0.463,"f":0.4412},{"a":"fdu_001","i":20,"n":0.463,"f":1.0},
{"a":"morpho_002","i":0,"n":0.723,"f":0.000558},{"a":"morpho_002","i":1,"n":0.714,"f":0.000727},{"a":"morpho_002","i":2,"n":0.693,"f":0.00164},{"a":"morpho_002","i":3,"n":0.663,"f":0.00359},{"a":"morpho_002","i":4,"n":0.63,"f":0.01},{"a":"morpho_002","i":5,"n":0.614,"f":0.01538},{"a":"morpho_002","i":6,"n":0.588,"f":0.0231},{"a":"morpho_002","i":7,"n":0.552,"f":0.0342},{"a":"morpho_002","i":8,"n":0.520,"f":0.0558},{"a":"morpho_002","i":9,"n":0.481,"f":0.0934},{"a":"morpho_002","i":10,"n":0.443,"f":0.1416},{"a":"morpho_002","i":11,"n":0.401,"f":0.2148},{"a":"morpho_002","i":12,"n":0.363,"f":0.3026},{"a":"morpho_002","i":13,"n":0.334,"f":0.354},{"a":"morpho_002","i":14,"n":0.286,"f":0.4412},
{"a":"tevian_000","i":0,"n":0.686,"f":0.000558},{"a":"tevian_000","i":1,"n":0.676,"f":0.000727},{"a":"tevian_000","i":2,"n":0.654,"f":0.00164},{"a":"tevian_000","i":3,"n":0.630,"f":0.00359},{"a":"tevian_000","i":4,"n":0.60,"f":0.01},{"a":"tevian_000","i":5,"n":0.581,"f":0.0172},{"a":"tevian_000","i":6,"n":0.562,"f":0.031},{"a":"tevian_000","i":7,"n":0.546,"f":0.0558},{"a":"tevian_000","i":8,"n":0.531,"f":0.0957},{"a":"tevian_000","i":9,"n":0.520,"f":0.1673},{"a":"tevian_000","i":10,"n":0.508,"f":0.2475},{"a":"tevian_000","i":11,"n":0.495,"f":0.3505},{"a":"tevian_000","i":12,"n":0.487,"f":0.4018},{"a":"tevian_000","i":13,"n":0.487,"f":1.0},
{"a":"yitu_000","i":0,"n":0.648,"f":0.000558},{"a":"yitu_000","i":1,"n":0.640,"f":0.000727},{"a":"yitu_000","i":2,"n":0.624,"f":0.00164},{"a":"yitu_000","i":3,"n":0.607,"f":0.00396},{"a":"yitu_000","i":4,"n":0.59,"f":0.01},{"a":"yitu_000","i":5,"n":0.578,"f":0.0172},{"a":"yitu_000","i":6,"n":0.569,"f":0.0332},{"a":"yitu_000","i":7,"n":0.557,"f":0.05919},{"a":"yitu_000","i":8,"n":0.539,"f":0.1181},{"a":"yitu_000","i":9,"n":0.520,"f":0.1722},{"a":"yitu_000","i":10,"n":0.501,"f":0.2311},{"a":"yitu_000","i":11,"n":0.481,"f":0.2811},{"a":"yitu_000","i":12,"n":0.456,"f":0.3178},{"a":"yitu_000","i":13,"n":0.415,"f":0.3772},{"a":"yitu_000","i":14,"n":0.377,"f":0.4264},{"a":"yitu_000","i":15,"n":0.343,"f":0.4771},{"a":"yitu_000","i":16,"n":0.286,"f":0.5527},
{"a":"3divi_002","i":0,"n":0.642,"f":0.000558},{"a":"3divi_002","i":1,"n":0.631,"f":0.000727},{"a":"3divi_002","i":2,"n":0.612,"f":0.00164},{"a":"3divi_002","i":3,"n":0.589,"f":0.00396},{"a":"3divi_002","i":4,"n":0.56,"f":0.01},{"a":"3divi_002","i":5,"n":0.541,"f":0.0172},{"a":"3divi_002","i":6,"n":0.520,"f":0.02968},{"a":"3divi_002","i":7,"n":0.502,"f":0.05919},{"a":"3divi_002","i":8,"n":0.481,"f":0.1181},{"a":"3divi_002","i":9,"n":0.467,"f":0.1882},{"a":"3divi_002","i":10,"n":0.456,"f":0.2369},{"a":"3divi_002","i":11,"n":0.443,"f":0.2982},{"a":"3divi_002","i":12,"n":0.435,"f":0.3505},{"a":"3divi_002","i":13,"n":0.424,"f":0.4121},{"a":"3divi_002","i":14,"n":0.420,"f":0.4412},{"a":"3divi_002","i":15,"n":0.420,"f":1.0},
{"a":"visionlabs_002","i":0,"n":0.630,"f":0.000558},{"a":"visionlabs_002","i":1,"n":0.620,"f":0.000727},{"a":"visionlabs_002","i":2,"n":0.603,"f":0.00164},{"a":"visionlabs_002","i":3,"n":0.584,"f":0.00396},{"a":"visionlabs_002","i":4,"n":0.56,"f":0.01},{"a":"visionlabs_002","i":5,"n":0.544,"f":0.0172},{"a":"visionlabs_002","i":6,"n":0.528,"f":0.031},{"a":"visionlabs_002","i":7,"n":0.513,"f":0.0558},{"a":"visionlabs_002","i":8,"n":0.502,"f":0.0911},{"a":"visionlabs_002","i":9,"n":0.487,"f":0.1487},{"a":"visionlabs_002","i":10,"n":0.478,"f":0.22},{"a":"visionlabs_002","i":11,"n":0.469,"f":0.3663},{"a":"visionlabs_002","i":12,"n":0.459,"f":0.4121},{"a":"visionlabs_002","i":13,"n":0.455,"f":0.4611},{"a":"visionlabs_002","i":14,"n":0.455,"f":1.0},
{"a":"3divi_001","i":0,"n":0.636,"f":0.000558},{"a":"3divi_001","i":1,"n":0.626,"f":0.000727},{"a":"3divi_001","i":2,"n":0.601,"f":0.00164},{"a":"3divi_001","i":3,"n":0.573,"f":0.00396},{"a":"3divi_001","i":4,"n":0.55,"f":0.01},{"a":"3divi_001","i":5,"n":0.531,"f":0.0172},{"a":"3divi_001","i":6,"n":0.520,"f":0.02357},{"a":"3divi_001","i":7,"n":0.502,"f":0.03735},{"a":"3divi_001","i":8,"n":0.481,"f":0.0607},{"a":"3divi_001","i":9,"n":0.456,"f":0.0986},{"a":"3divi_001","i":10,"n":0.433,"f":0.1423},{"a":"3divi_001","i":11,"n":0.409,"f":0.2055},{"a":"3divi_001","i":12,"n":0.378,"f":0.2839},{"a":"3divi_001","i":13,"n":0.348,"f":0.3505},{"a":"3divi_001","i":14,"n":0.321,"f":0.4412},{"a":"3divi_001","i":15,"n":0.286,"f":0.5368},
{"a":"ntechlab_002","i":0,"n":0.584,"f":0.000558},{"a":"ntechlab_002","i":1,"n":0.572,"f":0.000727},{"a":"ntechlab_002","i":2,"n":0.535,"f":0.00219},{"a":"ntechlab_002","i":3,"n":0.520,"f":0.00284},{"a":"ntechlab_002","i":4,"n":0.501,"f":0.00457},{"a":"ntechlab_002","i":5,"n":0.481,"f":0.00637},{"a":"ntechlab_002","i":6,"n":0.46,"f":0.01},{"a":"ntechlab_002","i":7,"n":0.439,"f":0.0143},{"a":"ntechlab_002","i":8,"n":0.419,"f":0.021},{"a":"ntechlab_002","i":9,"n":0.393,"f":0.0553},{"a":"ntechlab_002","i":10,"n":0.367,"f":0.0868},{"a":"ntechlab_002","i":11,"n":0.353,"f":0.1103},{"a":"ntechlab_002","i":12,"n":0.327,"f":0.1882},{"a":"ntechlab_002","i":13,"n":0.286,"f":0.2811},
{"a":"ntechlab_003","i":0,"n":0.528,"f":0.000558},{"a":"ntechlab_003","i":1,"n":0.520,"f":0.000749},{"a":"ntechlab_003","i":2,"n":0.502,"f":0.00153},{"a":"ntechlab_003","i":3,"n":0.470,"f":0.00396},{"a":"ntechlab_003","i":4,"n":0.43,"f":0.01},{"a":"ntechlab_003","i":5,"n":0.410,"f":0.021},{"a":"ntechlab_003","i":6,"n":0.387,"f":0.03735},{"a":"ntechlab_003","i":7,"n":0.365,"f":0.0666},{"a":"ntechlab_003","i":8,"n":0.350,"f":0.1005},{"a":"ntechlab_003","i":9,"n":0.333,"f":0.1487},{"a":"ntechlab_003","i":10,"n":0.313,"f":0.2055},{"a":"ntechlab_003","i":11,"n":0.286,"f":0.2613}
]
},
"vconcat": [
{
"width": 1095, "height": 29,
"data": {"name": "leg"},
"view": {"fill": "white", "stroke": null},
"title": {"text": ["Dataset: Child Exploitation", "FNMR @ FMR=0.01", "and Algorithm"], "orient": "left", "anchor": "start", "frame": "group", "offset": -200, "fontSize": 17, "fontWeight": "normal", "color": "#00008B", "lineHeight": 18},
"encoding": {"x": {"field": "lab", "type": "nominal", "sort": null, "scale": {"range": [213, 1095], "paddingInner": 0.143, "paddingOuter": 0.0715}, "axis": {"orient": "top", "labelAngle": 270, "labelAlign": "left", "labelBaseline": "middle", "labelPadding": 11, "ticks": false, "domain": false, "grid": false, "title": null, "labelFontSize": 15, "labelColor": "#00008B", "labelLimit": 400}}},
"layer": [
{"mark": {"type": "bar", "color": "#F2F2F2"}},
{"mark": {"type": "tick", "orient": "vertical", "thickness": 2.3, "size": 25, "opacity": 1},
 "encoding": {"color": {"field": "a", "type": "nominal", "legend": null,
  "scale": {"domain": ["isityou_000","shaman_000","dermalog_004","aware_001","shaman_001","morpho_000","ayonix_000","innovatrics_001","aware_000","itmo_002","cyberextruder_001","rankone_002","rankone_003","intellivision_001","digitalbarriers_000","samtech_000","camvi_001","vocord_002","cogent_000","noblis_000","yisheng_001","vcog_002","tongyitrans_002","tongyitrans_001","toshiba_000","isystems_000","digitalbarriers_001","vigilantsolutions_000","pa_002","fdu_000","id3_001","id3_002","neurotechnology_000","fdu_001","morpho_002","tevian_000","yitu_000","3divi_002","visionlabs_002","3divi_001","ntechlab_002","ntechlab_003"],
  "range": ["#00BE70","#A58AFF","#A3A500","#E58700","#C77CFF","#00BBAA","#D89000","#00BA38","#EE8243","#00C19F","#B79F00","#00A9FF","#619CFF","#00BE67","#9DA700","#8B93FF","#C99800","#FF6C91","#D39200","#00BCD8","#FA6E84","#FF61C3","#E76BF3","#ED68ED","#FF62BC","#00BA8F","#93AA00","#FF61C9","#00A5FF","#7CAE00","#39B600","#00BB4E","#00BFC4","#6BB100","#00C0B8","#DB72FB","#F8766D","#F27D52","#FF66A8","#F5736A","#00B4F0","#00B0F6"]}}}}
]
},
{
"width": 1253, "height": 1397,
"view": {"fill": "#EBEBEB", "stroke": null},
"layer": [
{"data": {"name": "minx"}, "mark": {"type": "rule", "color": "#DEDEDE", "strokeWidth": 0.8},
 "encoding": {"x": {"field": "n", "type": "quantitative", "scale": {"type": "log", "domain": [0.2938, 0.9677], "reverse": true, "nice": false},
  "axis": {"orient": "bottom", "values": [0.3,0.4,0.5,0.6,0.7,0.8], "format": ".1f", "labelAngle": 270, "labelAlign": "right", "labelBaseline": "middle", "labelFontSize": 17, "labelColor": "#00008B", "labelPadding": 2, "labelFlush": false, "labelOverlap": false, "tickColor": "#333333", "tickSize": 5, "tickWidth": 1.1, "domain": false, "grid": true, "gridColor": "#CCCCCC", "gridWidth": 1.2, "title": "False non\u2212match rate (FNMR)", "titleAngle": 180, "titleBaseline": "bottom", "titleFontSize": 19, "titleFontWeight": "normal", "titleColor": "#00008B", "titlePadding": 2}}}},
{"data": {"name": "miny"}, "mark": {"type": "rule", "color": "#DEDEDE", "strokeWidth": 0.8},
 "encoding": {"y": {"field": "f", "type": "quantitative", "scale": {"type": "log", "domain": [0.000727, 0.682], "nice": false},
  "axis": {"orient": "right", "values": [0.001, 0.01, 0.1], "format": ".3f", "labelAngle": 270, "labelAlign": "center", "labelBaseline": "top", "labelFontSize": 17, "labelColor": "#00008B", "labelPadding": 3, "labelFlush": false, "labelOverlap": false, "tickColor": "#333333", "tickSize": 5, "tickWidth": 1.1, "domain": false, "grid": true, "gridColor": "#CCCCCC", "gridWidth": 1.2, "title": "False match rate (FMR)", "titleAngle": 270, "titleBaseline": "top", "titleFontSize": 19, "titleFontWeight": "normal", "titleColor": "#00008B", "titlePadding": 10}}}},
{"data": {"name": "curves"}, "mark": {"type": "line", "strokeWidth": 1.9, "clip": true},
 "encoding": {
  "x": {"field": "n", "type": "quantitative", "scale": {"type": "log", "domain": [0.2938, 0.9677], "reverse": true, "nice": false},
   "axis": {"orient": "bottom", "values": [0.3,0.4,0.5,0.6,0.7,0.8], "format": ".1f", "labelAngle": 270, "labelAlign": "right", "labelBaseline": "middle", "labelFontSize": 17, "labelColor": "#00008B", "labelPadding": 2, "labelFlush": false, "labelOverlap": false, "tickColor": "#333333", "tickSize": 5, "tickWidth": 1.1, "domain": false, "grid": true, "gridColor": "#CCCCCC", "gridWidth": 1.2, "title": "False non\u2212match rate (FNMR)", "titleAngle": 180, "titleBaseline": "bottom", "titleFontSize": 19, "titleFontWeight": "normal", "titleColor": "#00008B", "titlePadding": 2}},
  "y": {"field": "f", "type": "quantitative", "scale": {"type": "log", "domain": [0.000727, 0.682], "nice": false},
   "axis": {"orient": "right", "values": [0.001, 0.01, 0.1], "format": ".3f", "labelAngle": 270, "labelAlign": "center", "labelBaseline": "top", "labelFontSize": 17, "labelColor": "#00008B", "labelPadding": 3, "labelFlush": false, "labelOverlap": false, "tickColor": "#333333", "tickSize": 5, "tickWidth": 1.1, "domain": false, "grid": true, "gridColor": "#CCCCCC", "gridWidth": 1.2, "title": "False match rate (FMR)", "titleAngle": 270, "titleBaseline": "top", "titleFontSize": 19, "titleFontWeight": "normal", "titleColor": "#00008B", "titlePadding": 10}},
  "color": {"field": "a", "type": "nominal", "legend": null,
   "scale": {"domain": ["isityou_000","shaman_000","dermalog_004","aware_001","shaman_001","morpho_000","ayonix_000","innovatrics_001","aware_000","itmo_002","cyberextruder_001","rankone_002","rankone_003","intellivision_001","digitalbarriers_000","samtech_000","camvi_001","vocord_002","cogent_000","noblis_000","yisheng_001","vcog_002","tongyitrans_002","tongyitrans_001","toshiba_000","isystems_000","digitalbarriers_001","vigilantsolutions_000","pa_002","fdu_000","id3_001","id3_002","neurotechnology_000","fdu_001","morpho_002","tevian_000","yitu_000","3divi_002","visionlabs_002","3divi_001","ntechlab_002","ntechlab_003"],
   "range": ["#00BE70","#A58AFF","#A3A500","#E58700","#C77CFF","#00BBAA","#D89000","#00BA38","#EE8243","#00C19F","#B79F00","#00A9FF","#619CFF","#00BE67","#9DA700","#8B93FF","#C99800","#FF6C91","#D39200","#00BCD8","#FA6E84","#FF61C3","#E76BF3","#ED68ED","#FF62BC","#00BA8F","#93AA00","#FF61C9","#00A5FF","#7CAE00","#39B600","#00BB4E","#00BFC4","#6BB100","#00C0B8","#DB72FB","#F8766D","#F27D52","#FF66A8","#F5736A","#00B4F0","#00B0F6"]}},
  "order": {"field": "i", "type": "quantitative"}
 }},
{"data": {"name": "labs"}, "mark": {"type": "text", "angle": 270, "color": "#0000FF", "fontSize": 16, "align": "center", "baseline": "middle"},
 "encoding": {
  "x": {"field": "n", "type": "quantitative", "scale": {"type": "log", "domain": [0.2938, 0.9677], "reverse": true, "nice": false}},
  "y": {"field": "f", "type": "quantitative", "scale": {"type": "log", "domain": [0.000727, 0.682], "nice": false}},
  "text": {"field": "t", "type": "nominal"}
 }}
]
}
]
}
